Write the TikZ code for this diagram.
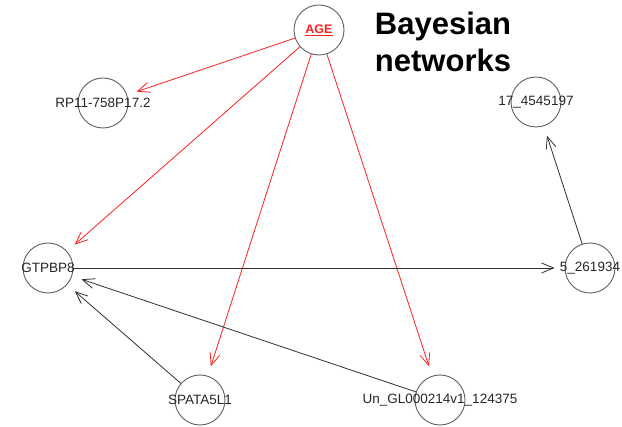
\documentclass[tikz,border=0pt]{standalone}
\usepackage{fontspec}
\setmainfont{Liberation Sans}
\usetikzlibrary{arrows.meta}
\definecolor{circ}{HTML}{606060}
\definecolor{edgek}{HTML}{303030}
\definecolor{edger}{HTML}{FF2020}
\begin{document}
\begin{tikzpicture}[x=1pt,y=-1pt,
  vert/.style={circle,draw=circ,line width=0.9pt,minimum size=50pt,inner sep=0pt},
  lbl/.style={font=\fontsize{13.5}{15}\selectfont,text=black!85},
  redge/.style={draw=edger,line width=0.8pt,-{Straight Barb[length=12pt,width=10pt]},shorten >=10pt},
  kedge/.style={draw=edgek,line width=0.8pt,-{Straight Barb[length=12pt,width=10pt]},shorten >=10pt}]
\useasboundingbox[fill=white] (0,0) rectangle (622,427);
\node[vert] (age) at (319,30) {};
\node[vert] (rp) at (103,103) {};
\node[vert] (s17) at (536,102) {};
\node[vert] (gtp) at (48,268) {};
\node[vert] (s5) at (590,268) {};
\node[vert] (spa) at (200,400) {};
\node[vert] (un) at (440,400) {};
\node[font=\bfseries\fontsize{12.5}{14}\selectfont,text=edger] (agel) at (age.center) {\underline{AGE}};
\node[lbl] (rpl) at (rp.center) {RP11-758P17.2};
\node[lbl] (s17l) at (s17.center) {17\_4545197};
\node[lbl] (gtpl) at (gtp.center) {GTPBP8};
\node[lbl] (s5l) at (s5.center) {5\_261934};
\node[lbl] (spal) at (spa.center) {SPATA5L1};
\node[lbl] (unl) at (un.center) {Un\_GL000214v1\_124375};
\node[font=\bfseries\fontsize{31}{37}\selectfont,align=center,anchor=base] (title) at (443,72) {Bayesian\\networks};
\draw[redge] (age) -- (rp);
\draw[redge] (age) -- (gtp);
\draw[redge] (age) -- (spa);
\draw[redge] (age) -- (un);
\draw[kedge] (s5) -- (s17);
\draw[kedge] (gtp) -- (s5);
\draw[kedge] (spa) -- (gtp);
\draw[kedge] (un) -- (gtp);
\end{tikzpicture}
\end{document}
